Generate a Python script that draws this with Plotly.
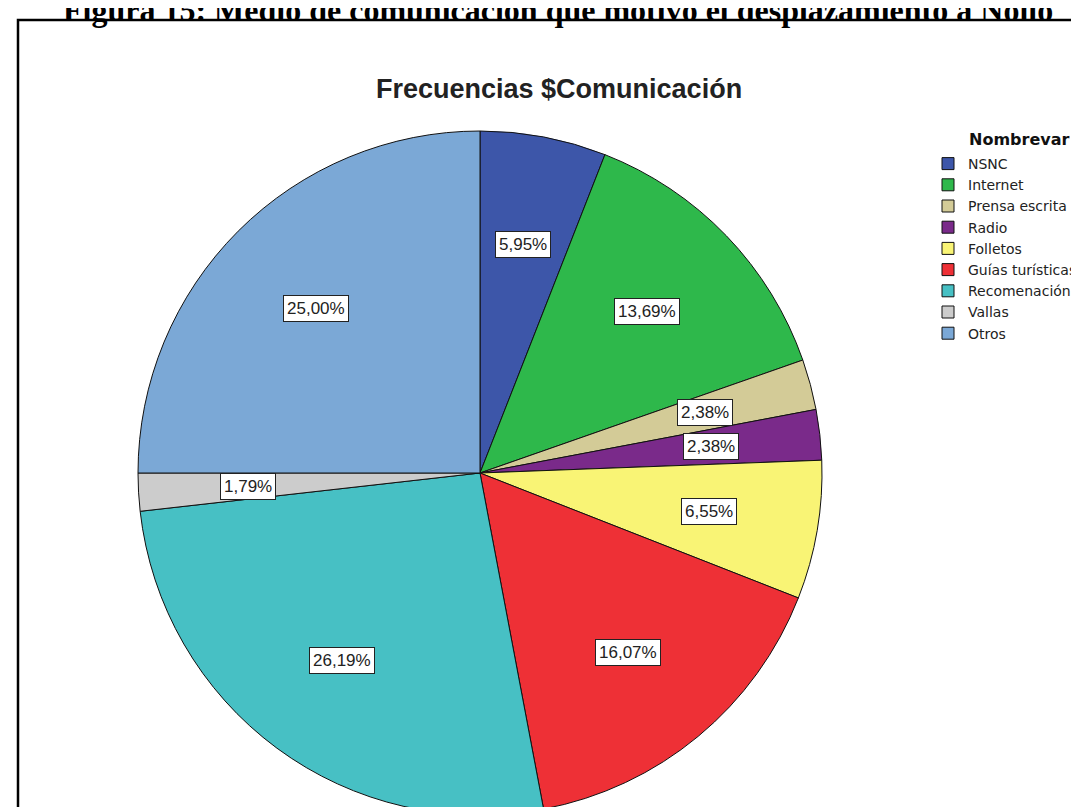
import math
import plotly.graph_objects as go

# ---- data ----
categories = ["NSNC", "Internet", "Prensa escrita", "Radio", "Folletos",
              "Guías turísticas", "Recomenación", "Vallas", "Otros"]
counts = [10, 23, 4, 4, 11, 27, 44, 3, 42]
colors = ["#3D56A9", "#2EB84B", "#D3CB97", "#7A2A8A", "#F9F475",
          "#EE3036", "#47C0C4", "#CCCCCC", "#7BA8D6"]
fig_title = "Figura 15: Medio de comunicación que motivó el desplazamiento a Nollo"
chart_title = "Frecuencias $Comunicación"
legend_title = "Nombrevar"

W, H = 1079, 807
CX, CY, R = 472, 465, 342  # pie centre / radius in pixels

fig = go.Figure()
fig.add_trace(go.Pie(
    labels=categories, values=counts, sort=False, direction="clockwise",
    rotation=0, textinfo="none", hoverinfo="label+percent",
    marker=dict(colors=colors, line=dict(color="#111111", width=1)),
    domain=dict(x=[(CX - R) / W, (CX + R) / W], y=[1 - (CY + R) / H, 1 - (CY - R) / H]),
))

# percentage labels in white boxes, positioned from the cumulative shares
total = sum(counts)
annotations = []
cum = 0
for c in counts:
    share = c / total
    mid = (cum + share / 2) * 2 * math.pi
    cum += share
    px = CX + 0.68 * R * math.sin(mid)
    py = CY - 0.68 * R * math.cos(mid)
    txt = f"{share * 100:.2f}%".replace(".", ",")
    annotations.append(dict(
        x=px / W, y=1 - py / H, xref="paper", yref="paper", text=txt,
        showarrow=False, font=dict(family="Liberation Sans, Arial", size=17, color="#222222"),
        bgcolor="white", bordercolor="#222222", borderwidth=1, borderpad=3,
        xanchor="center", yanchor="middle"))

annotations.append(dict(
    x=551 / W, y=1 - 81 / H, xref="paper", yref="paper", text=chart_title,
    showarrow=False, xanchor="center", yanchor="middle",
    font=dict(family="Liberation Sans, Arial", size=27, color="#222222", weight="bold")))

annotations.append(dict(
    x=550 / W, y=1 - 2 / H, xref="paper", yref="paper", text=fig_title,
    showarrow=False, xanchor="center", yanchor="middle",
    font=dict(family="Liberation Serif, Times New Roman", size=32, color="#000000", weight="bold")))

# legend heading aligned with the entry texts
annotations.append(dict(
    x=959 / W, y=1 - 132 / H, xref="paper", yref="paper", text=legend_title,
    showarrow=False, xanchor="left", yanchor="middle",
    font=dict(family="DejaVu Sans, Arial", size=16, color="#111111", weight="bold")))

fig.update_layout(
    width=W, height=H, margin=dict(l=0, r=0, t=0, b=0),
    paper_bgcolor="white", plot_bgcolor="white",
    annotations=annotations,
    showlegend=True,
    legend=dict(
        x=920 / W, y=1 - 140 / H, xanchor="left", yanchor="top",
        font=dict(family="DejaVu Sans, Arial", size=14, color="#222222"),
        bgcolor="rgba(0,0,0,0)", traceorder="normal"),
    shapes=[dict(type="rect", xref="paper", yref="paper",
                 x0=10 / W, x1=1.05, y0=-0.05, y1=1 - 12 / H,
                 line=dict(color="black", width=2.5))],
)

fig.write_html("out.html")
